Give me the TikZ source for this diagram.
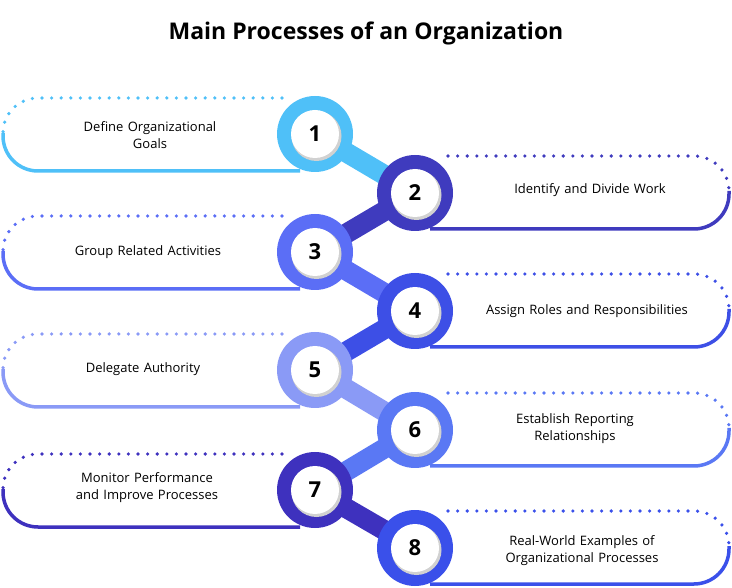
\documentclass[tikz,border=0pt]{standalone}
\usepackage{fontspec}
\setmainfont{Open Sans}
\definecolor{k1}{HTML}{4FC0F8}
\definecolor{k2}{HTML}{3F3BBE}
\definecolor{k3}{HTML}{5B6EF6}
\definecolor{k4}{HTML}{3D4FE6}
\definecolor{k5}{HTML}{8A9AF6}
\definecolor{k6}{HTML}{5A78F4}
\definecolor{k7}{HTML}{3E31BE}
\definecolor{k8}{HTML}{3A50EA}
\begin{document}
\begin{tikzpicture}[x=1pt,y=-1pt,
  dots/.style={line width=3.6pt,line cap=round,dash pattern=on 0pt off 9.6pt},
  solid line/.style={line width=3.5pt},
  outer/.style={circle,minimum size=76pt,inner sep=0pt},
  inner/.style={circle,minimum size=48pt,inner sep=0pt,fill=white,font=\bfseries\fontsize{22}{24}\selectfont},
  lbl/.style={align=center,font=\fontsize{13}{17}\selectfont,text width=250pt},
  neck/.style={line width=20pt}]
\useasboundingbox (0,0) rectangle (732,588);
\node[font=\bfseries\fontsize{23}{26}\selectfont] (title) at (366,33) {Main Processes of an Organization};
\foreach \i/\cx/\cy in {1/315/134,2/415/193,3/315/252,4/415/311,5/315/370,6/415/430,7/315/490,8/415/548}{
  \coordinate (p\i) at (\cx,\cy);
}
% necks
\foreach \i/\j in {1/2,2/3,3/4,4/5,5/6,6/7,7/8}{
  \draw[neck,k\i] (p\i) -- (p\j);
}
% left frames
\foreach \i/\cy in {1/134,3/252,5/370,7/490}{
  \draw[dots,k\i] (282,\cy-36) -- (38,\cy-36) arc(270:180:35);
  \draw[solid line,k\i] (3,\cy-1) -- (3,\cy+2) arc(180:90:35) -- (300,\cy+37);
}
% right frames
\foreach \i/\cy in {2/193,4/311,6/430,8/548}{
  \draw[dots,k\i] (448,\cy-37) -- (694,\cy-37) arc(270:360:35);
  \draw[solid line,k\i] (729,\cy-2) -- (729,\cy+1) arc(0:90:35) -- (430,\cy+36);
}
% circles
\foreach \i in {1,...,8}{
  \node[outer,fill=k\i] (c\i) at (p\i) {};
  \fill[black!18] ([xshift=1.5pt,yshift=-2pt]c\i) circle (25pt);
  \node[inner] (n\i) at (c\i) {\i};
}
\node[lbl] (t1) at (150,135) {Define Organizational\\Goals};
\node[lbl] (t2) at (590,190) {Identify and Divide Work};
\node[lbl] (t3) at (148,252) {Group Related Activities};
\node[lbl] (t4) at (587,311) {Assign Roles and Responsibilities};
\node[lbl] (t5) at (143,369) {Delegate Authority};
\node[lbl] (t6) at (575,429) {Establish Reporting\\Relationships};
\node[lbl] (t7) at (147,488) {Monitor Performance\\and Improve Processes};
\node[lbl] (t8) at (582,551) {Real-World Examples of\\Organizational Processes};
\end{tikzpicture}
\end{document}
